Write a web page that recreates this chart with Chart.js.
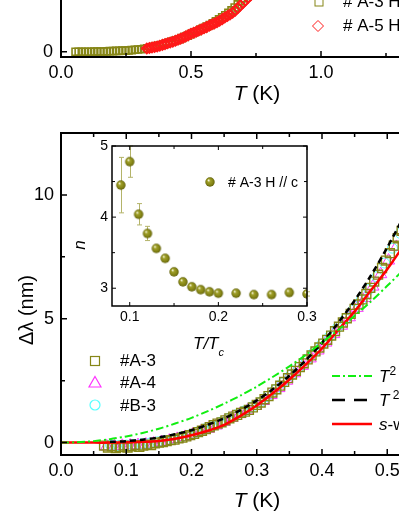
<!DOCTYPE html>
<html>
<head>
<meta charset="utf-8">
<script src="https://cdn.jsdelivr.net/npm/chart.js@4.4.0/dist/chart.umd.min.js"></script>
<style>
html, body { margin: 0; padding: 0; background: #fff; overflow: hidden; width: 399px; height: 516px; position: relative; }
canvas { position: absolute; }
#top { left: 0; top: -200px; }
#main { left: 0; top: 0; }
#inset { left: 60px; top: 125px; }
</style>
</head>
<body>
<canvas id="top" width="470" height="320"></canvas>
<canvas id="main" width="470" height="516"></canvas>
<canvas id="inset" width="270" height="240"></canvas>
<script>
const FONT = 'Arial, "Liberation Sans", sans-serif';

// top panel (only its bottom strip is in view)
const topTA3 = [0.056, 0.068, 0.080, 0.092, 0.104, 0.116, 0.128, 0.140, 0.152, 0.164, 0.176, 0.188, 0.200, 0.212, 0.224, 0.236, 0.248, 0.260, 0.272, 0.284, 0.296, 0.308, 0.320, 0.332, 0.344, 0.356, 0.368, 0.380, 0.392, 0.404, 0.416, 0.428, 0.440, 0.452, 0.464, 0.476, 0.488, 0.500, 0.512, 0.524, 0.536, 0.548, 0.560, 0.572, 0.584, 0.596, 0.608, 0.620, 0.632, 0.644, 0.656, 0.668, 0.680, 0.692, 0.704, 0.716, 0.728, 0.740, 0.752, 0.764];
const topA3 = [0.0, 0.0, 0.05, 0.0, 0.05, 0.05, 0.1, 0.1, 0.15, 0.15, 0.2, 0.25, 0.3, 0.35, 0.4, 0.45, 0.5, 0.6, 0.7, 0.8, 0.9, 1.0, 1.2, 1.4, 1.6, 1.9, 2.2, 2.5, 2.8, 3.2, 3.6, 4.0, 4.4, 4.8, 5.3, 5.8, 6.3, 6.9, 7.5, 8.0, 8.6, 9.2, 9.8, 10.4, 11.1, 11.8, 12.6, 13.4, 14.2, 15.1, 16.1, 17.2, 18.4, 19.6, 20.8, 22.0, 23.3, 24.6, 26.0, 27.5];
const topTA5 = [0.33, 0.34, 0.35, 0.36, 0.37, 0.38, 0.39, 0.40, 0.41, 0.42, 0.43, 0.44, 0.45, 0.46, 0.47, 0.48, 0.49, 0.50, 0.51, 0.52, 0.53, 0.54, 0.55, 0.56, 0.57, 0.58, 0.59, 0.60, 0.61, 0.62, 0.63, 0.64, 0.65, 0.66, 0.67, 0.68, 0.69, 0.70, 0.71, 0.72, 0.73, 0.74, 0.75, 0.76, 0.77, 0.78, 0.79, 0.80];
const topA5 = [1.3, 1.5, 1.7, 1.9, 2.1, 2.4, 2.7, 3.0, 3.3, 3.6, 3.9, 4.3, 4.7, 5.1, 5.5, 6.0, 6.5, 7.0, 7.4, 7.8, 8.3, 8.7, 9.2, 9.6, 10.1, 10.6, 11.0, 11.5, 12.1, 12.7, 13.3, 13.9, 14.5, 15.2, 16.0, 17.0, 18.0, 19.0, 20.0, 21.0, 22.0, 23.0, 24.0, 25.2, 26.4, 27.6, 28.8, 30.0];
const topXTicks = [0, 0.5, 1.0, 1.5];
const topXMinor = [0.25, 0.75, 1.25];
const topYTicks = [0, 50];
const topYMinor = [25, 75];

// main panel
const tA3 = [0.066, 0.072, 0.078, 0.084, 0.090, 0.096, 0.102, 0.108, 0.114, 0.120, 0.126, 0.132, 0.138, 0.144, 0.150, 0.156, 0.162, 0.168, 0.174, 0.180, 0.186, 0.192, 0.198, 0.204, 0.210, 0.216, 0.222, 0.228, 0.234, 0.240, 0.246, 0.252, 0.258, 0.264, 0.270, 0.276, 0.282, 0.288, 0.294, 0.300, 0.306, 0.312, 0.318, 0.324, 0.330, 0.336, 0.342, 0.348, 0.354, 0.360, 0.366, 0.372, 0.378, 0.384, 0.390, 0.396, 0.402, 0.408, 0.414, 0.420, 0.426, 0.432, 0.438, 0.444, 0.450, 0.456, 0.462, 0.468, 0.474, 0.480, 0.486, 0.492, 0.498, 0.504, 0.510, 0.516, 0.522, 0.528, 0.534, 0.540, 0.546, 0.552, 0.558, 0.564, 0.570, 0.576, 0.582, 0.588];
const dA3 = [-0.12, -0.2, -0.15, -0.22, -0.18, -0.12, -0.2, -0.15, -0.1, -0.17, -0.12, -0.08, -0.1, -0.03, 0.0, 0.02, 0.06, 0.1, 0.12, 0.17, 0.2, 0.25, 0.3, 0.35, 0.42, 0.48, 0.55, 0.62, 0.7, 0.77, 0.82, 0.9, 0.98, 1.05, 1.12, 1.2, 1.25, 1.32, 1.42, 1.52, 1.62, 1.75, 1.88, 2.02, 2.15, 2.3, 2.45, 2.6, 2.75, 2.9, 3.05, 3.2, 3.36, 3.52, 3.68, 3.84, 4.0, 4.15, 4.32, 4.5, 4.68, 4.85, 5.02, 5.2, 5.4, 5.58, 5.78, 6.0, 6.25, 6.5, 6.78, 7.05, 7.35, 7.65, 7.95, 8.25, 8.55, 8.85, 9.15, 9.45, 9.78, 10.1, 10.45, 10.8, 11.15, 11.5, 11.85, 12.2];
const tA4 = [0.070, 0.082, 0.094, 0.106, 0.118, 0.130, 0.142, 0.154, 0.166, 0.178, 0.190, 0.202, 0.214, 0.226, 0.238, 0.250, 0.262, 0.274, 0.286, 0.298, 0.310, 0.322, 0.334, 0.346, 0.358, 0.370, 0.382, 0.394, 0.406, 0.418, 0.430, 0.442, 0.454, 0.466, 0.478, 0.490, 0.502, 0.514, 0.526, 0.538, 0.550, 0.562, 0.574, 0.586];
const dA4 = [-0.15, -0.15, -0.13, -0.12, -0.1, -0.08, -0.04, 0.02, 0.08, 0.15, 0.23, 0.33, 0.44, 0.56, 0.69, 0.84, 1.0, 1.15, 1.3, 1.48, 1.68, 1.92, 2.2, 2.5, 2.8, 3.1, 3.4, 3.72, 4.04, 4.38, 4.72, 5.06, 5.44, 5.84, 6.3, 6.8, 7.35, 7.9, 8.5, 9.1, 9.75, 10.45, 11.15, 11.85];
const tB3 = [0.076, 0.088, 0.100, 0.112, 0.124, 0.136, 0.148, 0.160, 0.172, 0.184, 0.196, 0.208, 0.220, 0.232, 0.244, 0.256, 0.268, 0.280, 0.292, 0.304, 0.316, 0.328, 0.340, 0.352, 0.364, 0.376, 0.388, 0.400, 0.412, 0.424, 0.436, 0.448, 0.460, 0.472, 0.484, 0.496, 0.508, 0.520, 0.532, 0.544, 0.556, 0.568, 0.580, 0.592];
const dB3 = [-0.1, -0.12, -0.1, -0.08, -0.05, -0.02, 0.03, 0.08, 0.14, 0.22, 0.3, 0.42, 0.55, 0.68, 0.82, 0.97, 1.12, 1.27, 1.43, 1.62, 1.86, 2.12, 2.42, 2.72, 3.03, 3.34, 3.66, 3.98, 4.3, 4.65, 5.0, 5.36, 5.75, 6.18, 6.7, 7.25, 7.85, 8.45, 9.05, 9.7, 10.35, 11.05, 11.75, 12.45];
const tFit = [0, 0.025, 0.05, 0.075, 0.1, 0.125, 0.15, 0.175, 0.2, 0.225, 0.25, 0.275, 0.3, 0.325, 0.35, 0.375, 0.4, 0.425, 0.45, 0.475, 0.5, 0.525, 0.55, 0.575, 0.6];
const fitT2 = [0, 0.015, 0.06, 0.14, 0.25, 0.39, 0.56, 0.77, 1.0, 1.27, 1.57, 1.9, 2.26, 2.66, 3.08, 3.54, 4.04, 4.56, 5.12, 5.7, 6.33, 6.98, 7.66, 8.38, 9.12];
const fitS = [0, 0, 0, 0, 0.01, 0.03, 0.07, 0.16, 0.3, 0.48, 0.72, 1.08, 1.5, 2.0, 2.55, 3.15, 3.8, 4.55, 5.3, 6.15, 7.0, 7.95, 8.9, 9.95, 11.0];
const tPow = [0.075, 0.1, 0.125, 0.15, 0.175, 0.2, 0.225, 0.25, 0.275, 0.3, 0.325, 0.35, 0.375, 0.4, 0.425, 0.45, 0.475, 0.5, 0.525, 0.55, 0.575, 0.6];
const fitPow = [0.03, 0.06, 0.12, 0.21, 0.34, 0.5, 0.72, 0.98, 1.31, 1.7, 2.16, 2.7, 3.32, 4.03, 4.84, 5.74, 6.75, 7.88, 9.12, 10.48, 11.98, 13.6];
const mainXTicks = [0, 0.1, 0.2, 0.3, 0.4, 0.5, 0.6];
const mainXMinor = [0.05, 0.15, 0.25, 0.35, 0.45, 0.55];
const mainYTicks = [0, 5, 10];
const mainYMinor = [2.5, 7.5];

// inset: exponent n vs T/Tc
const tInset = [0.09, 0.10, 0.11, 0.12, 0.13, 0.14, 0.15, 0.16, 0.17, 0.18, 0.19, 0.20, 0.22, 0.24, 0.26, 0.28, 0.30];
const nInset = [4.45, 4.78, 4.04, 3.77, 3.56, 3.42, 3.23, 3.09, 3.02, 2.98, 2.95, 2.93, 2.93, 2.91, 2.91, 2.94, 2.92];
const nErr = [0.39, 0.22, 0.15, 0.10, 0.04, 0.03, 0.03, 0.02, 0.02, 0.02, 0.02, 0.02, 0.02, 0.02, 0.02, 0.05, 0.03];
const insetXTicks = [0.1, 0.2, 0.3];
const insetXMinor = [0.15, 0.25];
const insetYTicks = [3, 4, 5];
const insetYMinor = [3.5, 4.5];

const OLIVE = '#868617';
const RED = '#ff1a1a';

function pts(t, v) { return t.map((x, i) => ({ x: x, y: v[i] })); }

function axis(pos, min, max, ticks, fmt, size, pad, fit) {
  return {
    type: 'linear', position: pos, min: min, max: max, bounds: 'data',
    grid: { display: false, drawTicks: false },
    border: { display: false },
    afterBuildTicks: s => { s.ticks = ticks.map(v => ({ value: v })); },
    afterFit: s => { if (pos === 'left') s.width = fit; else s.height = fit; },
    ticks: { color: '#000', font: { size: size, family: FONT }, padding: pad, autoSkip: false, maxRotation: 0, callback: fmt }
  };
}

// box + inward ticks
function frame(o) {
  return {
    id: 'frame',
    afterDatasetsDraw(chart) {
      const ctx = chart.ctx, a = chart.chartArea, x = chart.scales.x, y = chart.scales.y;
      ctx.save();
      ctx.strokeStyle = '#000';
      ctx.lineWidth = o.tick;
      ctx.beginPath();
      [[o.xMajor, o.major], [o.xMinor, o.minor]].forEach(([vals, len]) => vals.forEach(v => {
        const p = x.getPixelForValue(v);
        ctx.moveTo(p, a.bottom); ctx.lineTo(p, a.bottom - len);
        ctx.moveTo(p, a.top); ctx.lineTo(p, a.top + len);
      }));
      [[o.yMajor, o.major], [o.yMinor, o.minor]].forEach(([vals, len]) => vals.forEach(v => {
        const p = y.getPixelForValue(v);
        ctx.moveTo(a.left, p); ctx.lineTo(a.left + len, p);
        ctx.moveTo(a.right, p); ctx.lineTo(a.right - len, p);
      }));
      ctx.stroke();
      ctx.lineWidth = o.border;
      ctx.strokeRect(a.left, a.top, a.right - a.left, a.bottom - a.top);
      ctx.restore();
    }
  };
}

function runs(ctx, x, y, parts, center) {
  let w = 0;
  parts.forEach(p => { ctx.font = p[1]; w += ctx.measureText(p[0]).width; });
  let cx = center ? x - w / 2 : x;
  ctx.textAlign = 'left';
  ctx.textBaseline = 'alphabetic';
  parts.forEach(p => { ctx.font = p[1]; ctx.fillText(p[0], cx, y + (p[2] || 0)); cx += ctx.measureText(p[0]).width; });
}

function ball(r) {
  const c = document.createElement('canvas');
  const s = Math.ceil(r * 2) + 2;
  c.width = c.height = s;
  const g = c.getContext('2d');
  const grd = g.createRadialGradient(s / 2 - r * 0.35, s / 2 - r * 0.4, r * 0.05, s / 2, s / 2, r);
  grd.addColorStop(0, '#fbfbe6');
  grd.addColorStop(0.3, '#a0a02a');
  grd.addColorStop(0.75, '#828214');
  grd.addColorStop(1, '#5e5e08');
  g.fillStyle = grd;
  g.beginPath(); g.arc(s / 2, s / 2, r, 0, 2 * Math.PI); g.fill();
  return c;
}
const BALL = ball(4.7);

const base = {
  responsive: false, animation: false, devicePixelRatio: 1, events: [],
  plugins: { legend: { display: false }, tooltip: { enabled: false } }
};
const f1 = v => v.toFixed(1);
const f0 = v => String(v);

// ---------- top panel ----------
new Chart(document.getElementById('top'), {
  type: 'scatter',
  data: { datasets: [
    { data: pts(topTA5, topA5), pointStyle: 'rectRot', pointRadius: 5, pointBorderWidth: 1.8, pointBorderColor: RED, pointBackgroundColor: 'rgba(0,0,0,0)', clip: 0, order: 1 },
    { data: pts(topTA3, topA3), pointStyle: 'rect', pointRadius: 5, pointBorderWidth: 1.6, pointBorderColor: OLIVE, pointBackgroundColor: 'rgba(0,0,0,0)', clip: 0, order: 2 }
  ] },
  options: Object.assign({}, base, {
    layout: { padding: { top: 20, right: 19, left: 0, bottom: 0 } },
    scales: {
      x: axis('bottom', 0, 1.5, topXTicks, f1, 18, 5, 63),
      y: axis('left', -2, 90, topYTicks, f0, 18, 8, 61)
    }
  }),
  plugins: [frame({ border: 2, tick: 1.5, major: 6, minor: 4, xMajor: topXTicks, xMinor: topXMinor, yMajor: topYTicks, yMinor: topYMinor }), {
    id: 'topText',
    afterDraw(chart) {
      const ctx = chart.ctx;
      ctx.save();
      ctx.fillStyle = '#000';
      runs(ctx, 257, 299.5, [['T', 'italic 21px ' + FONT], [' (K)', '21px ' + FONT]], true);
      ctx.lineWidth = 1;
      ctx.strokeStyle = OLIVE;
      ctx.strokeRect(315, 198, 8, 8);
      ctx.strokeStyle = RED;
      ctx.beginPath();
      ctx.moveTo(312.5, 226); ctx.lineTo(318, 220.5); ctx.lineTo(323.5, 226); ctx.lineTo(318, 231.5); ctx.closePath();
      ctx.stroke();
      ctx.textBaseline = 'middle';
      ctx.font = '17px ' + FONT;
      ctx.fillText('# A-3 H // c', 343, 202);
      ctx.fillText('# A-5 H // c', 343, 226);
      ctx.restore();
    }
  }]
});

// ---------- main panel ----------
new Chart(document.getElementById('main'), {
  type: 'scatter',
  data: { datasets: [
    { data: pts(tFit, fitT2), showLine: true, pointRadius: 0, borderColor: '#11ee11', borderWidth: 2, borderDash: [8, 3, 2, 3], tension: 0.3, clip: 0, order: 0 },
    { data: pts(tPow, fitPow), showLine: true, pointRadius: 0, borderColor: '#000', borderWidth: 2.5, borderDash: [6, 4], tension: 0.3, clip: 0, order: 0 },
    { data: pts(tFit, fitS), showLine: true, pointRadius: 0, borderColor: '#ff0000', borderWidth: 2.5, tension: 0.3, clip: 0, order: 0 },
    { data: pts(tA3, dA3), pointStyle: 'rect', pointRadius: 6.3, pointBorderWidth: 1.4, pointBorderColor: OLIVE, pointBackgroundColor: 'rgba(0,0,0,0)', clip: 0, order: 1 },
    { data: pts(tB3, dB3), pointStyle: 'circle', pointRadius: 5, pointBorderWidth: 1, pointBorderColor: '#55ffff', pointBackgroundColor: 'rgba(0,0,0,0)', clip: 0, order: 2 },
    { data: pts(tA4, dA4), pointStyle: 'triangle', pointRadius: 7, pointBorderWidth: 1, pointBorderColor: '#ff33ff', pointBackgroundColor: 'rgba(0,0,0,0)', clip: 0, order: 3 }
  ] },
  options: Object.assign({}, base, {
    layout: { padding: { top: 133, right: 17, left: 0, bottom: 0 } },
    scales: {
      x: axis('bottom', 0, 0.6, mainXTicks, f1, 18, 5, 61),
      y: axis('left', -0.5, 12.5, mainYTicks, f0, 18, 7, 61)
    }
  }),
  plugins: [frame({ border: 2, tick: 1.5, major: 6, minor: 4, xMajor: mainXTicks, xMinor: mainXMinor, yMajor: mainYTicks, yMinor: mainYMinor }), {
    id: 'mainText',
    afterDraw(chart) {
      const ctx = chart.ctx;
      ctx.save();
      ctx.fillStyle = '#000';
      runs(ctx, 257, 506.5, [['T', 'italic 21px ' + FONT], [' (K)', '21px ' + FONT]], true);
      ctx.save();
      ctx.translate(27, 310);
      ctx.rotate(-Math.PI / 2);
      ctx.font = '20px ' + FONT;
      ctx.textAlign = 'center';
      ctx.textBaseline = 'middle';
      ctx.fillText('\u0394\u03bb (nm)', 0, 0);
      ctx.restore();
      // sample legend
      ctx.lineWidth = 1.2;
      ctx.strokeStyle = OLIVE;
      ctx.strokeRect(90.5, 356.5, 9, 9);
      ctx.strokeStyle = '#ff33ff';
      ctx.beginPath(); ctx.moveTo(95, 376.5); ctx.lineTo(101, 387); ctx.lineTo(89, 387); ctx.closePath(); ctx.stroke();
      ctx.strokeStyle = '#55ffff';
      ctx.beginPath(); ctx.arc(95, 405, 5, 0, 2 * Math.PI); ctx.stroke();
      ctx.font = '17px ' + FONT;
      ctx.textBaseline = 'middle';
      ctx.fillText('#A-3', 120, 361);
      ctx.fillText('#A-4', 120, 383);
      ctx.fillText('#B-3', 120, 406);
      // fit legend
      const rows = [[376, '#11ee11', 2, [8, 3, 2, 3]], [400, '#000', 2.5, [13, 9]], [424, '#ff0000', 2.5, []]];
      rows.forEach(r => {
        ctx.strokeStyle = r[1]; ctx.lineWidth = r[2]; ctx.setLineDash(r[3]);
        ctx.beginPath(); ctx.moveTo(332, r[0]); ctx.lineTo(372, r[0]); ctx.stroke();
      });
      ctx.setLineDash([]);
      runs(ctx, 379, 382, [['T', 'italic 17px ' + FONT], ['2', '12px ' + FONT, -7]]);
      runs(ctx, 379, 406, [['T', 'italic 17px ' + FONT], [' 2.9', '12px ' + FONT, -7]]);
      runs(ctx, 379, 430, [['s', 'italic 17px ' + FONT], ['-wave', '17px ' + FONT]]);
      ctx.restore();
    }
  }]
});

// ---------- inset ----------
new Chart(document.getElementById('inset'), {
  type: 'scatter',
  data: { datasets: [
    { data: pts(tInset, nInset), pointStyle: BALL, pointRadius: 4.7, clip: 0 }
  ] },
  options: Object.assign({}, base, {
    layout: { padding: { top: 21, right: 23, left: 0, bottom: 0 } },
    scales: {
      x: axis('bottom', 0.08, 0.3, insetXTicks, f1, 14, 3, 59),
      y: axis('left', 2.75, 5.0, insetYTicks, f0, 14, 4, 52)
    }
  }),
  plugins: [{
    id: 'insetBg',
    beforeDatasetsDraw(chart) {
      const ctx = chart.ctx, a = chart.chartArea, x = chart.scales.x, y = chart.scales.y;
      ctx.save();
      ctx.fillStyle = '#fff';
      ctx.fillRect(a.left, a.top, a.right - a.left, a.bottom - a.top);
      ctx.strokeStyle = '#b4b46a';
      ctx.lineWidth = 1;
      ctx.beginPath();
      tInset.forEach((t, i) => {
        const px = Math.round(x.getPixelForValue(t)) + 0.5;
        const y1 = y.getPixelForValue(nInset[i] + nErr[i]);
        const y2 = y.getPixelForValue(nInset[i] - nErr[i]);
        ctx.moveTo(px, y1); ctx.lineTo(px, y2);
        ctx.moveTo(px - 2.5, y1); ctx.lineTo(px + 2.5, y1);
        ctx.moveTo(px - 2.5, y2); ctx.lineTo(px + 2.5, y2);
      });
      ctx.stroke();
      ctx.restore();
    }
  }, frame({ border: 1.5, tick: 1, major: 4, minor: 3, xMajor: insetXTicks, xMinor: insetXMinor, yMajor: insetYTicks, yMinor: insetYMinor }), {
    id: 'insetText',
    afterDraw(chart) {
      const ctx = chart.ctx;
      ctx.save();
      ctx.fillStyle = '#000';
      ctx.drawImage(BALL, 150 - BALL.width / 2, 57 - BALL.height / 2);
      ctx.font = '14px ' + FONT;
      ctx.textBaseline = 'middle';
      ctx.fillText('# A-3 H // c', 168, 58);
      runs(ctx, 133, 224, [['T/T', 'italic 17px ' + FONT], ['c', 'italic 11px ' + FONT, 7]]);
      ctx.save();
      ctx.translate(20, 120);
      ctx.rotate(-Math.PI / 2);
      ctx.font = 'italic 17px ' + FONT;
      ctx.textAlign = 'center';
      ctx.textBaseline = 'middle';
      ctx.fillText('n', 0, 0);
      ctx.restore();
      ctx.restore();
    }
  }]
});
</script>
</body>
</html>
